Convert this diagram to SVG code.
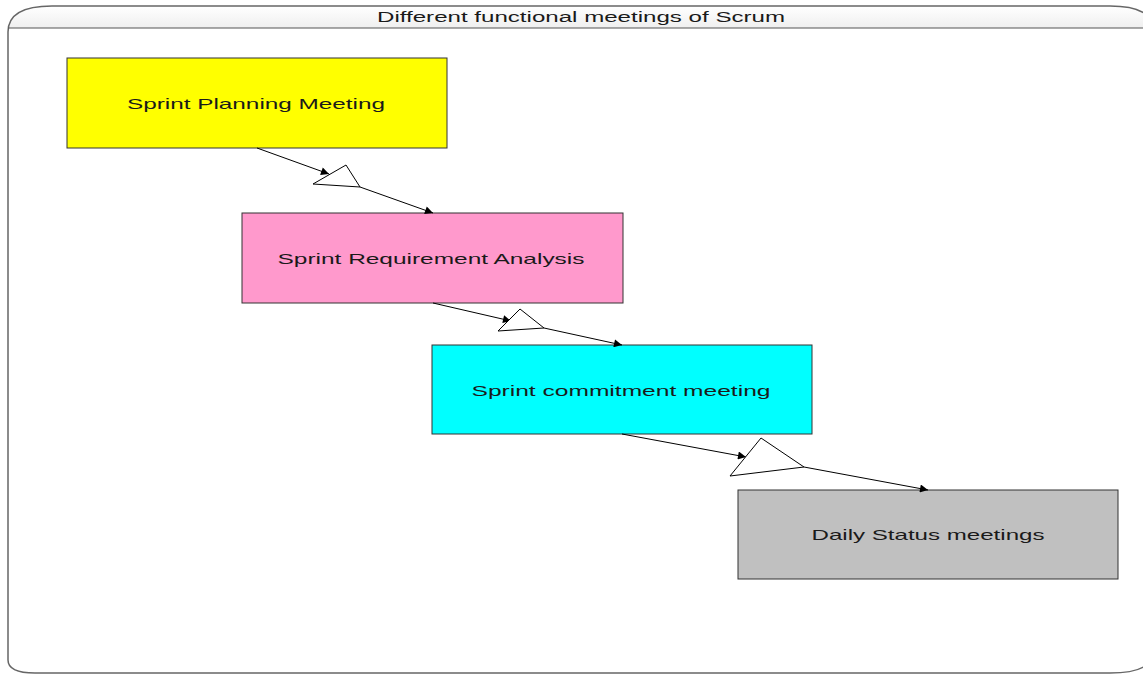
<svg xmlns="http://www.w3.org/2000/svg" width="1143" height="675" viewBox="0 0 1143 675">
<defs>
<linearGradient id="hdr" x1="0" y1="0" x2="0" y2="1"><stop offset="0" stop-color="#ffffff"/><stop offset="1" stop-color="#ececec"/></linearGradient>
<marker id="ah" viewBox="0 0 10 10" refX="10" refY="5" markerWidth="14" markerHeight="8" markerUnits="userSpaceOnUse" orient="auto"><path d="M0,0 L10,5 L0,10 Z" fill="#000"/></marker>
<style>
.box{stroke:#333;stroke-width:1}
.lbl{font-family:"Liberation Sans",Arial,sans-serif;font-size:15px;fill:#1a1a1a;text-anchor:middle;dominant-baseline:central}
.edge{stroke:#000;stroke-width:1;fill:none;marker-end:url(#ah)}
.tri{fill:#fff;stroke:#000;stroke-width:1}
</style>
</defs>
<rect width="1143" height="675" fill="#fff"/>
<g id="frame">
<path d="M8,32 Q8,6 52,6 L1110,6 Q1140,6 1150,18 L1150,28 L8,28 Z" fill="url(#hdr)"/>
<path d="M8,660 L8,32 Q8,6 52,6 L1110,6 Q1140,6 1150,18" fill="none" stroke="#666" stroke-width="1.5"/>
<path d="M8,660 Q8,673 35,673 L1110,673 Q1135,673 1145,666" fill="none" stroke="#666" stroke-width="1.5"/>
<line x1="8" y1="28" x2="1143" y2="28" stroke="#555" stroke-width="1"/>
<text class="lbl" x="581" y="17" style="font-size:14px" textLength="408" lengthAdjust="spacingAndGlyphs">Different functional meetings of Scrum</text>
</g>
<g id="n1"><rect class="box" x="67" y="58" width="380" height="90" fill="#ffff00"/><text class="lbl" x="256" y="103" textLength="258" lengthAdjust="spacingAndGlyphs">Sprint Planning Meeting</text></g>
<g id="n2"><rect class="box" x="242" y="213" width="381" height="90" fill="#ff99cc"/><text class="lbl" x="431" y="258" textLength="307" lengthAdjust="spacingAndGlyphs">Sprint Requirement Analysis</text></g>
<g id="n3"><rect class="box" x="432" y="345" width="380" height="89" fill="#00ffff"/><text class="lbl" x="621" y="390" textLength="299" lengthAdjust="spacingAndGlyphs">Sprint commitment meeting</text></g>
<g id="n4"><rect class="box" x="738" y="490" width="380" height="89" fill="#c0c0c0"/><text class="lbl" x="928" y="534" textLength="233" lengthAdjust="spacingAndGlyphs">Daily Status meetings</text></g>
<g id="edges">
<path class="edge" d="M257,148 L329,174"/>
<polygon class="tri" points="313,184 346,165 360,187"/>
<path class="edge" d="M360,187 L433,213"/>
<path class="edge" d="M433,303 L511,321"/>
<polygon class="tri" points="498,331 520,309 544,328"/>
<path class="edge" d="M544,328 L622,345"/>
<path class="edge" d="M622,434 L746,457"/>
<polygon class="tri" points="730,476 761,438 804,467"/>
<path class="edge" d="M804,467 L928,490"/>
</g>
</svg>
